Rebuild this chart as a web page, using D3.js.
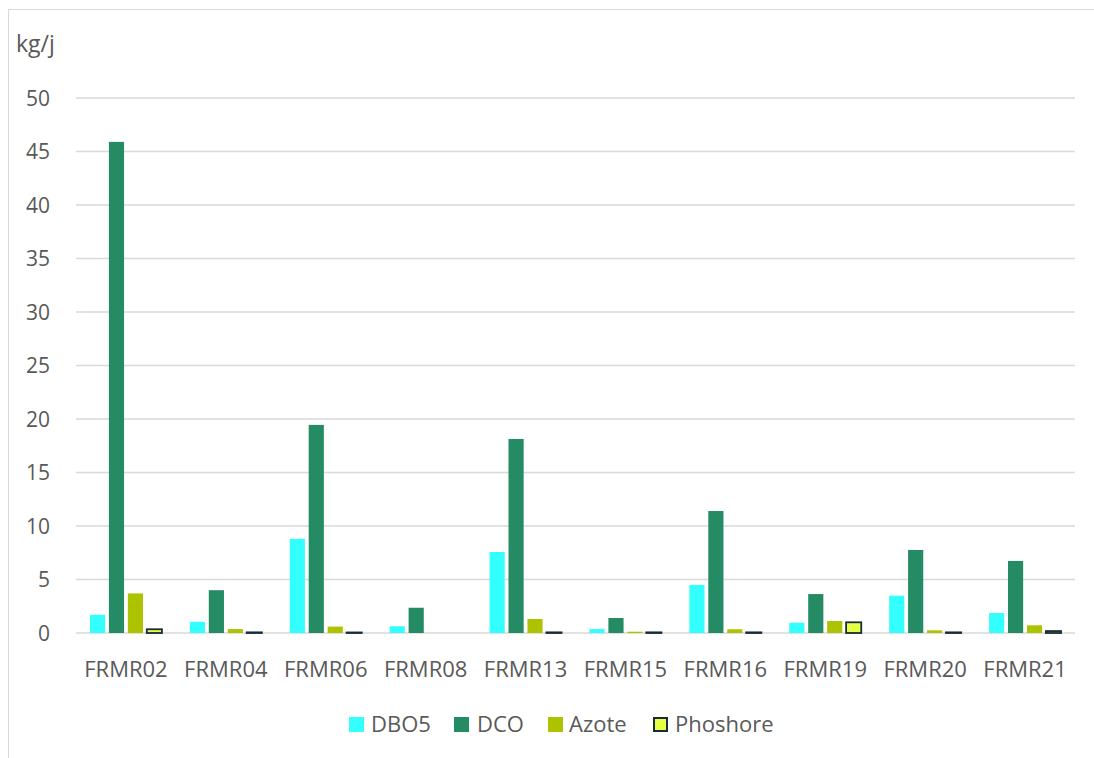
<!DOCTYPE html>
<html><head><meta charset="utf-8">
<script src="https://cdn.jsdelivr.net/npm/d3@7"></script>
<style>body{margin:0;background:#fff;} svg{display:block;} text{font-family:"Open Sans","Noto Sans",sans-serif;fill:#595959;}</style>
</head><body>
<svg id="c" width="1094" height="758"></svg>
<script>
const categories = ["FRMR02","FRMR04","FRMR06","FRMR08","FRMR13","FRMR15","FRMR16","FRMR19","FRMR20","FRMR21"];
const seriesNames = ["DBO5","DCO","Azote","Phoshore"];
const dbo5 = [1.7, 1.05, 8.8, 0.63, 7.57, 0.37, 4.49, 0.96, 3.49, 1.87];
const dco = [45.9, 4.0, 19.45, 2.36, 18.13, 1.4, 11.4, 3.64, 7.76, 6.73];
const azote = [3.7, 0.37, 0.6, 0, 1.31, 0.12, 0.35, 1.12, 0.25, 0.72];
const phosphore = [0.35, 0.06, 0.05, 0, 0.06, 0.06, 0.06, 1.0, 0.06, 0.18];
const yTicks = [0,5,10,15,20,25,30,35,40,45,50];
const fills = ["#33ffff","#248b64","#aec300","#e5ff47"];
const strokes = [null,null,null,"#1a2a36"];

const values = [dbo5, dco, azote, phosphore];
const svg = d3.select("#c");
// chart border
svg.append("rect").attr("x",8.5).attr("y",9.5).attr("width",1200).attr("height",900)
  .attr("fill","none").attr("stroke","#d9d9d9").attr("stroke-width",1);

const x0 = d3.scaleBand().domain(categories).range([76,1075]);
const x1 = d3.scaleBand().domain(seriesNames).range([0,72]).paddingInner(0.2);
const y = d3.scaleLinear().domain([0,50]).range([633,98]);

// gridlines
svg.append("g").selectAll("line").data(yTicks).join("line")
  .attr("x1",76).attr("x2",1075).attr("y1",d=>y(d)).attr("y2",d=>y(d))
  .attr("stroke","#d9d9d9").attr("stroke-width",1.5);
// y labels
svg.append("g").selectAll("text").data(yTicks).join("text")
  .attr("x",50).attr("y",d=>y(d)).attr("dy","0.36em").attr("text-anchor","end")
  .attr("font-size",21).text(d=>d);
svg.append("text").attr("x",16).attr("y",52).attr("font-size",23).text("kg/j");

// bars
const groups = svg.append("g").selectAll("g").data(categories).join("g")
  .attr("transform",d=>`translate(${x0(d)+x0.bandwidth()/2-36},0)`);
seriesNames.forEach((s,si)=>{
  groups.append("rect")
    .attr("x",x1(s)).attr("width",x1.bandwidth())
    .attr("y",(d,i)=>y(values[si][i])).attr("height",(d,i)=>y(0)-y(values[si][i]))
    .attr("fill",fills[si])
    .attr("stroke",strokes[si]||"none").attr("stroke-width",strokes[si]?1.8:0)
    .attr("display",(d,i)=>values[si][i]>0?null:"none");
});
// x labels
svg.append("g").selectAll("text").data(categories).join("text")
  .attr("x",d=>x0(d)+x0.bandwidth()/2).attr("y",677).attr("text-anchor","middle")
  .attr("font-size",22).text(d=>d);

// legend
const legX = [349,454,548,653];
const leg = svg.append("g").selectAll("g").data(seriesNames).join("g")
  .attr("transform",(d,i)=>`translate(${legX[i]},717)`);
leg.append("rect")
  .attr("x",(d,i)=>strokes[i]?1:0).attr("y",(d,i)=>strokes[i]?1:0)
  .attr("width",(d,i)=>strokes[i]?13:15).attr("height",(d,i)=>strokes[i]?13:15)
  .attr("fill",(d,i)=>fills[i]).attr("stroke",(d,i)=>strokes[i]||"none").attr("stroke-width",2);
leg.append("text").attr("x",(d,i)=>[22,23,21,22][i]).attr("y",15).attr("font-size",22).text(d=>d);
</script>
</body></html>
